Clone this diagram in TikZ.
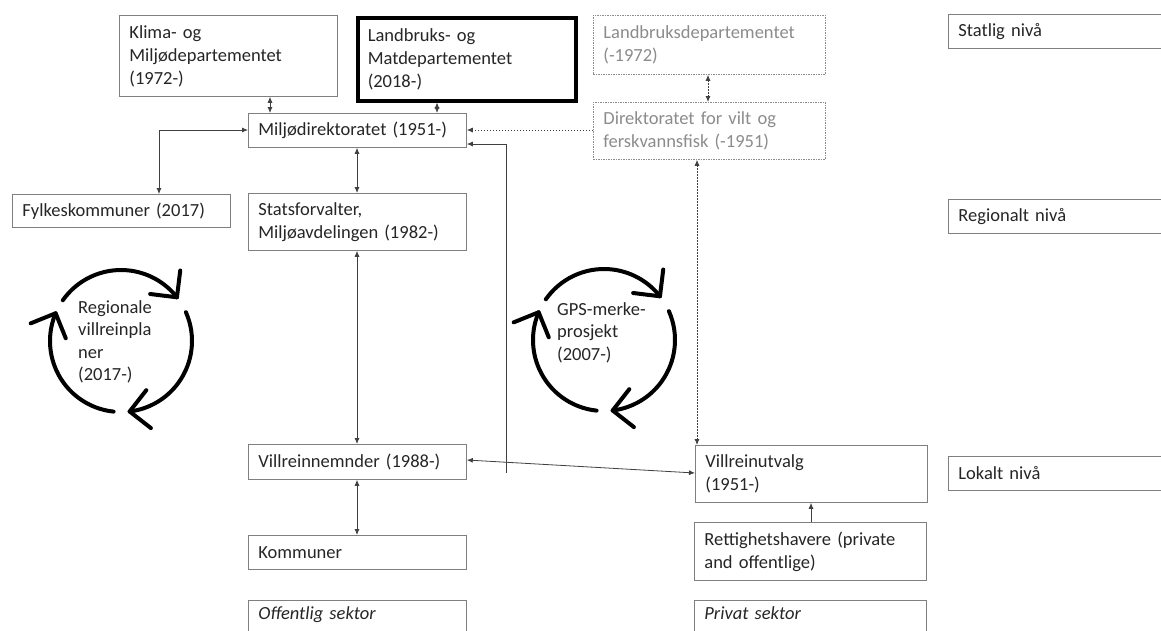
\documentclass[tikz,border=0pt]{standalone}
\usepackage{fontspec}
\setmainfont{Carlito}
\usetikzlibrary{arrows.meta,calc}
\definecolor{txt}{HTML}{262626}
\definecolor{bord}{HTML}{7F7F7F}
\definecolor{connc}{HTML}{404040}
\definecolor{lgray}{HTML}{8C8C8C}
\begin{document}
\begin{tikzpicture}[x=1pt,y=-1pt,
  box/.style={draw=bord, line width=0.8pt, anchor=north west, align=left, inner xsep=10pt, inner ysep=0pt,
    font=\fontsize{18.5}{23}\selectfont, text=txt},
  wbox/.style={box, minimum width=218pt, text width=198pt},
  rbox/.style={box, minimum width=232pt, text width=212pt},
  lvl/.style={box, minimum width=300pt, text width=280pt, minimum height=34pt},
  gbox/.style={rbox, draw=lgray, dash pattern=on 1.5pt off 1pt, text=lgray},
  conn/.style={draw=connc, line width=0.8pt},
  dotconn/.style={conn, dash pattern=on 1.5pt off 1.5pt},
  >={Latex[length=6pt,width=5pt]},
  cyc/.style={line width=4pt, line cap=round, line join=round},
  cyctext/.style={anchor=north west, align=left, inner sep=0pt, font=\fontsize{18.5}{22.5}\selectfont, text=txt}
]
\useasboundingbox (0,0) rectangle (1161,630);
\clip (0,0) rectangle (1161,630);
\fill[white] (0,0) rectangle (1161,630);

% top row
\node[wbox, minimum height=81pt] (klima) at (119,15) {Klima- og\\Miljødepartementet\\(1972-)};
\node[wbox, draw=black, line width=3.5pt, minimum height=83pt] (lmd) at (356,16) {Landbruks- og\\Matdepartementet\\(2018-)};
\node[gbox, minimum height=59pt] (ldep) at (593,15) {Landbruksdepartementet\\(-1972)};
\node[lvl] (stat) at (948,14) {Statlig nivå};

\node[wbox, minimum height=34pt] (mdir) at (248,113) {Miljødirektoratet (1951-)};
\node[gbox, minimum height=57pt] (dvf) at (593,102) {Direktoratet for vilt og\\ferskvannsfisk (-1951)};

% regional
\node[wbox, minimum height=33pt] (fylke) at (12,194) {Fylkeskommuner (2017)};
\node[wbox, minimum height=57pt] (sf) at (248,193) {Statsforvalter,\\Miljøavdelingen (1982-)};
\node[lvl] (reg) at (948,199) {Regionalt nivå};

% local
\node[wbox, minimum height=35pt] (vn) at (248,444) {Villreinnemnder (1988-)};
\node[rbox, minimum height=57pt] (vu) at (695,445) {Villreinutvalg\\(1951-)};
\node[lvl] (lok) at (948,456) {Lokalt nivå};
\node[wbox, minimum height=34pt] (kom) at (248,535) {Kommuner};
\node[rbox, minimum height=58pt] (rett) at (694,522) {Rettighetshavere (private\\and offentlige)};

% sectors
\node[wbox, text height=14pt, text depth=30pt, inner ysep=5pt, font=\fontsize{18.5}{23}\selectfont\itshape] (off) at (248,600) {Offentlig sektor};
\node[rbox, text height=14pt, text depth=30pt, inner ysep=5pt, font=\fontsize{18.5}{23}\selectfont\itshape] (priv) at (694,600) {Privat sektor};

% helper coordinates
\coordinate (x159) at (159,0);
\coordinate (x270) at (270,0);
\coordinate (x357) at (357,0);
\coordinate (x437) at (437,0);
\coordinate (x697) at (697,0);
\coordinate (x708) at (708,0);
\coordinate (x811) at (811,0);
\coordinate (y130) at (0,130);
\coordinate (y144) at (0,144);
\coordinate (y460) at (0,460);
\coordinate (y473) at (0,473);
\coordinate (c506) at (506,473);

% connectors
\draw[conn,<->] (klima.south -| x270) -- (mdir.north -| x270);
\draw[conn,<->] (lmd.south -| x437) -- (mdir.north -| x437);
\draw[dotconn,<->] (ldep.south -| x708) -- (dvf.north -| x708);
\draw[dotconn,->] (dvf.west |- y130) -- (mdir.east |- y130);
\draw[conn,<->] (mdir.west |- y130) -| (fylke.north -| x159);
\draw[conn,<->] (mdir.south -| x357) -- (sf.north -| x357);
\draw[conn,<->] (sf.south -| x357) -- (vn.north -| x357);
\draw[conn,<->] (vn.south -| x357) -- (kom.north -| x357);
\draw[conn,<->] (vn.east |- y460) -- (vu.west |- y473);
\draw[conn,->] (c506) |- (mdir.east |- y144);
\draw[dotconn,<->] (dvf.south -| x697) -- (vu.north -| x697);
\draw[conn,->] (rett.north -| x811) -- (vu.south -| x811);

% cycle arrows
\foreach \cx/\cy in {121/341, 604/340}{
  \begin{scope}[shift={(\cx,\cy)}, yscale=-1]
    \foreach \s in {145,24,-96}{
      \pgfmathsetmacro\e{\s-107}
      \draw[cyc] (\s:71) arc[start angle=\s, end angle=\e, radius=71];
      \draw[cyc] ($(\e:71)+({\e+45}:27)$) -- (\e:71) -- ++({\e+135}:27);
    }
  \end{scope}
}
\node[cyctext] (regtxt) at (78,300) {Regionale\\villreinpla\\ner\\(2017-)};
\node[cyctext] (gpstxt) at (557,302) {GPS-merke-\\prosjekt\\(2007-)};
\end{tikzpicture}
\end{document}
